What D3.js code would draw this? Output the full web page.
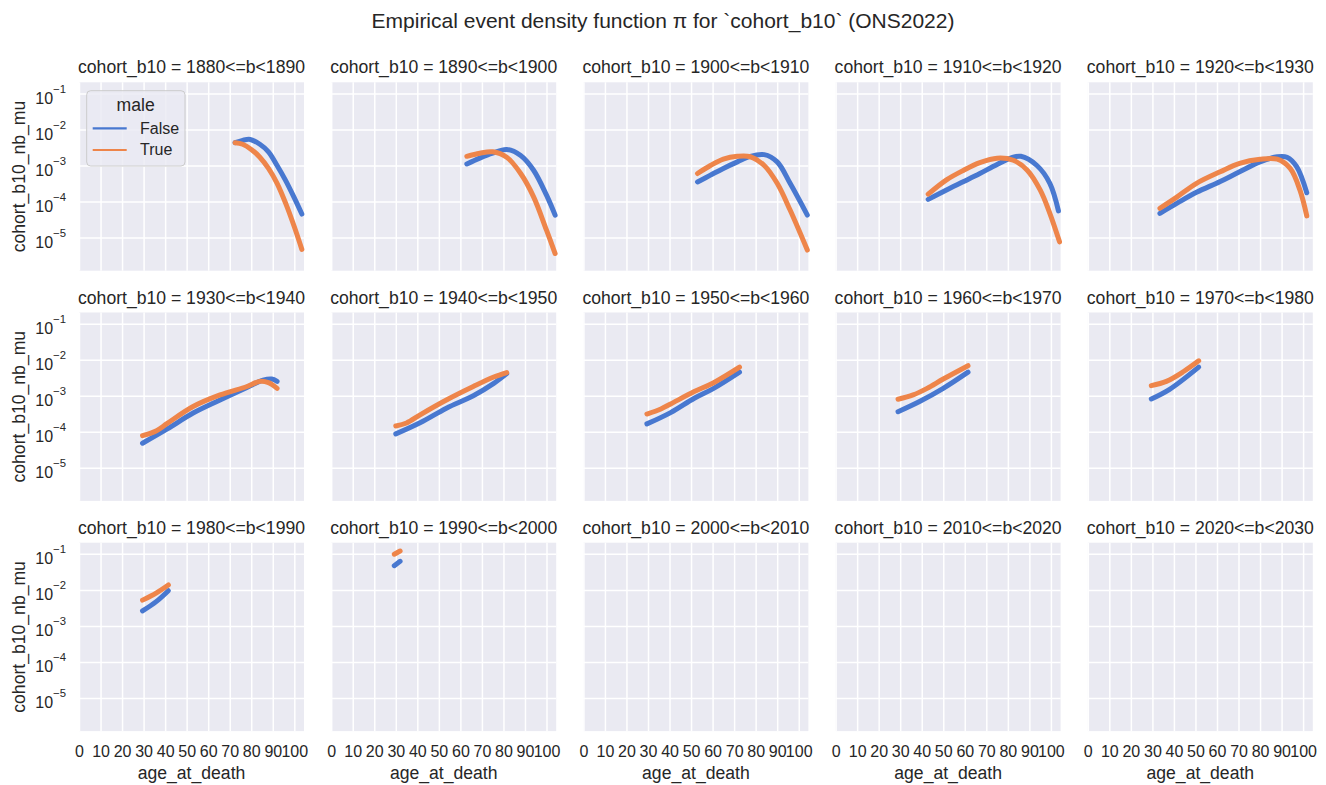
<!DOCTYPE html>
<html>
<head>
<meta charset="utf-8">
<script src="https://cdn.jsdelivr.net/npm/d3@7"></script>
<style>
  body { margin: 0; background: #fff; }
  svg { display: block; font-family: "Liberation Sans", Arial, sans-serif; }
</style>
</head>
<body>
<svg id="chart" width="1326" height="785"></svg>
<script>
const cohorts = [
  '1880<=b<1890', '1890<=b<1900', '1900<=b<1910', '1910<=b<1920', '1920<=b<1930',
  '1930<=b<1940', '1940<=b<1950', '1950<=b<1960', '1960<=b<1970', '1970<=b<1980',
  '1980<=b<1990', '1990<=b<2000', '2000<=b<2010', '2010<=b<2020', '2020<=b<2030'
];

// male = False
const ageFalse = [
  [72.5, 76, 79.5, 84, 88, 92, 96, 100, 103.5],
  [63, 69, 75, 81.5, 88, 94, 100, 104],
  [53, 59, 65, 71.5, 77.5, 84, 90, 96, 104],
  [43, 51.5, 59.5, 67, 75, 82.5, 86, 93.5, 99.5, 103.5],
  [33.5, 41.5, 50.5, 61.5, 70.5, 80, 88, 92.5, 97, 101.7],
  [29.5, 41, 53, 65.5, 78, 85.5, 89.5, 92],
  [30, 41.5, 53.5, 66, 75.5, 81.5],
  [29.5, 40.5, 51.5, 60.5, 72.5],
  [29, 39, 50, 61.5],
  [29.5, 38, 51.5],
  [29.5, 36, 41.5],
  [29.3, 32],
  [], [], []
];
const muFalse = [
  [4.3e-3, 5.0e-3, 5.3e-3, 3.9e-3, 2.4e-3, 1.0e-3, 3.8e-4, 1.26e-4, 4.5e-5],
  [1.1e-3, 1.6e-3, 2.2e-3, 2.8e-3, 1.9e-3, 7.4e-4, 1.5e-4, 4.2e-5],
  [3.5e-4, 5.4e-4, 8.3e-4, 1.26e-3, 1.8e-3, 2.0e-3, 1.26e-3, 3.2e-4, 4.2e-5],
  [1.15e-4, 2.1e-4, 3.6e-4, 6e-4, 1.07e-3, 1.7e-3, 1.8e-3, 1.0e-3, 3.2e-4, 5.5e-5],
  [4.7e-5, 9e-5, 1.8e-4, 3.6e-4, 6.7e-4, 1.26e-3, 1.75e-3, 1.7e-3, 9.3e-4, 1.75e-4],
  [4.8e-5, 1.2e-4, 3.3e-4, 7.6e-4, 1.7e-3, 2.7e-3, 2.9e-3, 2.5e-3],
  [8.7e-5, 1.8e-4, 4.5e-4, 1.0e-3, 2.2e-3, 4.1e-3],
  [1.65e-4, 3.4e-4, 8.5e-4, 1.6e-3, 4.5e-3],
  [3.6e-4, 6.9e-4, 1.6e-3, 4.5e-3],
  [8.1e-4, 1.5e-3, 6.2e-3],
  [2.6e-3, 4.8e-3, 9.5e-3],
  [4.7e-2, 6.2e-2],
  [], [], []
];

// male = True
const ageTrue = [
  [72.5, 76, 80, 84, 88, 92, 96, 100, 103.5],
  [63, 69, 75, 81.5, 88, 94, 100, 104],
  [53, 59, 65, 71.5, 77.5, 84, 90, 96, 104],
  [43, 51.5, 59.5, 67, 75, 82.5, 89, 95, 99.5, 104],
  [33.5, 41.5, 50.5, 61.5, 70.5, 80, 88, 94, 98.5, 101.7],
  [29.5, 36, 41, 53, 65.5, 78, 84, 88, 92],
  [30, 35, 41.5, 53.5, 66, 75.5, 81.5],
  [29.5, 36, 40.5, 51.5, 60.5, 72.5],
  [29, 36, 42.5, 50, 61.5],
  [29.5, 36.5, 44.5, 51.5],
  [29.5, 36, 41.5],
  [29.3, 32],
  [], [], []
];
const muTrue = [
  [4.3e-3, 3.9e-3, 2.8e-3, 1.7e-3, 8.3e-4, 3.2e-4, 8.9e-5, 2e-5, 4.7e-6],
  [1.8e-3, 2.2e-3, 2.4e-3, 1.7e-3, 6e-4, 1.35e-4, 1.6e-5, 3.6e-6],
  [6e-4, 1.0e-3, 1.5e-3, 1.8e-3, 1.75e-3, 1.0e-3, 3.2e-4, 5.8e-5, 4.5e-6],
  [1.6e-4, 4e-4, 7.4e-4, 1.2e-3, 1.6e-3, 1.4e-3, 7.4e-4, 2.1e-4, 4.7e-5, 7.6e-6],
  [6.5e-5, 1.35e-4, 3.2e-4, 6.7e-4, 1.15e-3, 1.5e-3, 1.5e-3, 8.3e-4, 2.1e-4, 4e-5],
  [7.8e-5, 1.07e-4, 1.7e-4, 5e-4, 1.05e-3, 1.8e-3, 2.5e-3, 2.3e-3, 1.6e-3],
  [1.45e-4, 1.75e-4, 3e-4, 7.6e-4, 1.8e-3, 3.3e-3, 4.4e-3],
  [3.1e-4, 4.3e-4, 5.9e-4, 1.3e-3, 2.3e-3, 6.2e-3],
  [8e-4, 1.05e-3, 1.6e-3, 2.9e-3, 6.8e-3],
  [1.9e-3, 2.5e-3, 4.7e-3, 9.3e-3],
  [5.2e-3, 8.3e-3, 1.37e-2],
  [9.8e-2, 1.2e-1],
  [], [], []
];

const xTicks = [0, 10, 20, 30, 40, 50, 60, 70, 80, 90, 100];
const yTicks = [1e-1, 1e-2, 1e-3, 1e-4, 1e-5];
const hues = ['False', 'True'];

const colors = { False: '#4878d0', True: '#ee854a' };
const textColor = '#262626';

const ncol = 5, nrow = 3;
const pw = 225, ph = 188.4;
const left0 = 79, top0 = 82.3;
const stepX = 252.2, stepY = 230.2;

const x = d3.scaleLinear().domain([0, 104.5]).range([0, pw]);
const y = d3.scaleLog().domain([Math.pow(10, -5.92), Math.pow(10, -0.69)]).range([ph, 0]);

const line = d3.line()
  .x(d => x(d[0]))
  .y(d => y(d[1]))
  .curve(d3.curveCatmullRom.alpha(0.5));

const svg = d3.select('#chart');

svg.append('text')
  .attr('x', 663)
  .attr('y', 28)
  .attr('text-anchor', 'middle')
  .attr('font-size', 21)
  .attr('fill', textColor)
  .text('Empirical event density function \u03c0 for `cohort_b10` (ONS2022)');

cohorts.forEach((cohort, i) => {
  const col = i % ncol, row = Math.floor(i / ncol);
  const $g = svg.append('g')
    .attr('transform', `translate(${left0 + col * stepX},${top0 + row * stepY})`);

  $g.append('rect')
    .attr('width', pw)
    .attr('height', ph)
    .attr('fill', '#eaeaf2');

  // vertical grid + x tick labels
  const $x = $g.append('g')
    .attr('transform', `translate(0,${ph})`)
    .call(d3.axisBottom(x)
      .tickValues(xTicks)
      .tickSize(-ph)
      .tickPadding(15)
      .tickFormat(row === nrow - 1 ? d3.format('d') : () => ''));
  $x.select('.domain').remove();
  $x.selectAll('line').attr('stroke', '#fff').attr('stroke-width', 1.5);
  $x.selectAll('text')
    .attr('font-size', 16)
    .attr('font-family', '"Liberation Sans", Arial, sans-serif')
    .attr('fill', textColor);

  // horizontal grid + y tick labels
  const $y = $g.append('g')
    .call(d3.axisLeft(y)
      .tickValues(yTicks)
      .tickSize(-pw)
      .tickPadding(13)
      .tickFormat(() => ''));
  $y.select('.domain').remove();
  $y.selectAll('line').attr('stroke', '#fff').attr('stroke-width', 1.5);
  if (col === 0) {
    $y.selectAll('text')
      .attr('dy', null)
      .attr('font-family', '"Liberation Sans", Arial, sans-serif')
      .attr('fill', textColor)
      .each(function(d) {
        const exp = Math.round(Math.log10(d));
        const $t = d3.select(this);
        $t.append('tspan').attr('dy', 10).attr('font-size', 16).text('10');
        $t.append('tspan').attr('dy', -11).attr('font-size', 11.3).text('\u2212' + Math.abs(exp));
      });
  }

  // series, False first then True on top
  [[ageFalse[i], muFalse[i], 'False'], [ageTrue[i], muTrue[i], 'True']].forEach(([ages, mus, hue]) => {
    if (!ages.length) return;
    $g.append('path')
      .datum(ages.map((a, k) => [a, mus[k]]))
      .attr('d', line)
      .attr('fill', 'none')
      .attr('stroke', colors[hue])
      .attr('stroke-width', 5)
      .attr('stroke-linecap', 'round')
      .attr('stroke-linejoin', 'round');
  });

  $g.append('text')
    .attr('x', pw / 2)
    .attr('y', -9)
    .attr('text-anchor', 'middle')
    .attr('font-size', 17.6)
    .attr('fill', textColor)
    .text(`cohort_b10 = ${cohort}`);

  if (col === 0) {
    $g.append('text')
      .attr('transform', `translate(${25 - left0},${ph / 2}) rotate(-90)`)
      .attr('text-anchor', 'middle')
      .attr('font-size', 17.6)
      .attr('fill', textColor)
      .text('cohort_b10_nb_mu');
  }
  if (row === nrow - 1) {
    $g.append('text')
      .attr('x', pw / 2)
      .attr('y', ph + 48)
      .attr('text-anchor', 'middle')
      .attr('font-size', 17.6)
      .attr('fill', textColor)
      .text('age_at_death');
  }
});

// legend in first panel
const $legend = svg.append('g').attr('transform', 'translate(86.7,90.7)');
$legend.append('rect')
  .attr('width', 98.3)
  .attr('height', 75.3)
  .attr('rx', 4)
  .attr('fill', '#eaeaf2')
  .attr('fill-opacity', 0.8)
  .attr('stroke', '#cccccc');
$legend.append('text')
  .attr('x', 49)
  .attr('y', 20.5)
  .attr('text-anchor', 'middle')
  .attr('font-size', 17.6)
  .attr('fill', textColor)
  .text('male');
hues.forEach((hue, k) => {
  const yy = 37.6 + k * 21.7;
  $legend.append('line')
    .attr('x1', 6).attr('x2', 40)
    .attr('y1', yy).attr('y2', yy)
    .attr('stroke', colors[hue])
    .attr('stroke-width', 2.2);
  $legend.append('text')
    .attr('x', 53.3)
    .attr('y', yy + 5.5)
    .attr('font-size', 16)
    .attr('fill', textColor)
    .text(hue);
});
</script>
</body>
</html>
